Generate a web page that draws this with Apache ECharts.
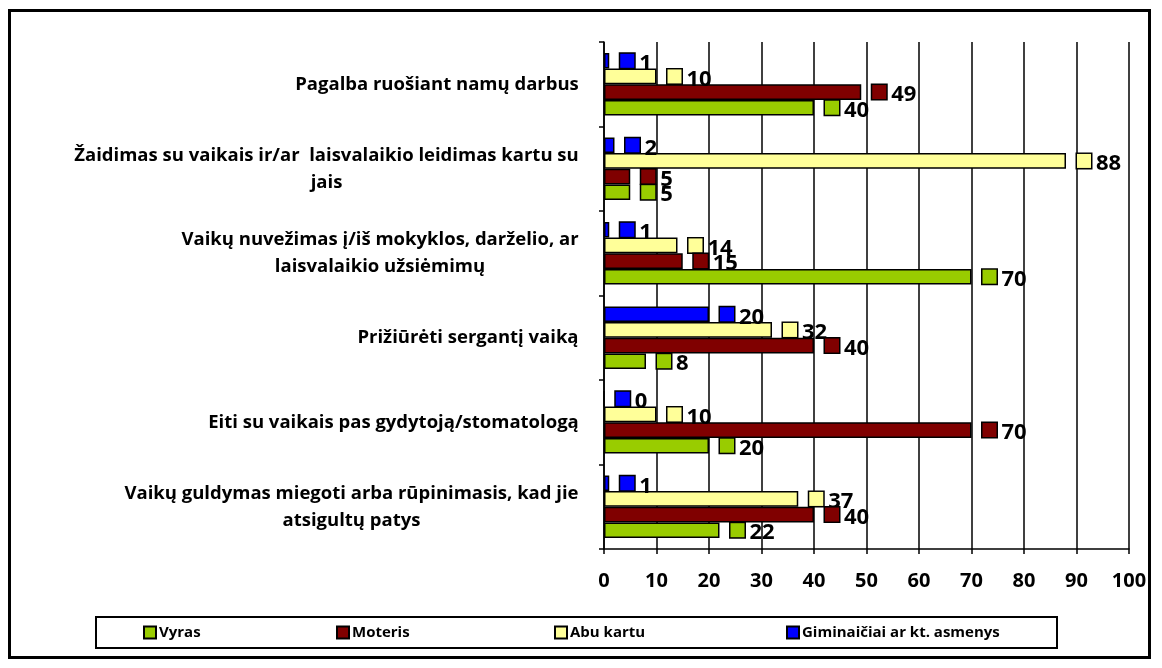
<!DOCTYPE html>
<html>
<head>
<meta charset="utf-8">
<script src="https://cdn.jsdelivr.net/npm/echarts@6/dist/echarts.min.js"></script>
<style>
html,body{margin:0;padding:0;background:#fff;}
#chart{width:1162px;height:668px;}
</style>
</head>
<body>
<div id="chart"></div>
<script>
const categories = [
  "Pagalba ruošiant namų darbus",
  "Žaidimas su vaikais ir/ar  laisvalaikio leidimas kartu su\njais",
  "Vaikų nuvežimas į/iš mokyklos, darželio, ar\nlaisvalaikio užsiėmimų",
  "Prižiūrėti sergantį vaiką",
  "Eiti su vaikais pas gydytoją/stomatologą",
  "Vaikų guldymas miegoti arba rūpinimasis, kad jie\natsigultų patys"
];
const seriesNames = ["Vyras", "Moteris", "Abu kartu", "Giminaičiai ar kt. asmenys"];
const vyras       = [40, 5, 70, 8, 20, 22];
const moteris     = [49, 5, 15, 40, 70, 40];
const abuKartu    = [10, 88, 14, 32, 10, 37];
const giminaiciai = [1, 2, 1, 20, 0, 1];
const colors = {"Vyras":"#99CC00","Moteris":"#800000","Abu kartu":"#FFFF99","Giminaičiai ar kt. asmenys":"#0000FF"};

const FONT = "'Open Sans', sans-serif";
const CAT_SIZE = 18.5;
const cv = document.createElement('canvas').getContext('2d');
cv.font = "bold " + CAT_SIZE + "px 'Open Sans'";
const catRich = {};
categories.forEach((c, i) => {
  const w = Math.max(...c.split('\n').map(l => cv.measureText(l).width));
  catRich['c' + i] = {width: Math.ceil(w) + 2, align: 'center', fontSize: CAT_SIZE, fontWeight: 'bold',
    fontFamily: FONT, color: '#000', lineHeight: 27};
});

function mkSeries(name, data) {
  const col = colors[name];
  return {
    name: name, type: 'bar', data: data,
    barGap: '0%', barCategoryGap: '26%',
    itemStyle: {color: col, borderColor: '#000', borderWidth: 1.5},
    label: {
      show: true, position: 'right', distance: 11,
      formatter: p => '{m|}{v|' + p.value + '}',
      rich: {
        m: {width: 14, height: 14, backgroundColor: col, borderColor: '#000', borderWidth: 1.5},
        v: {fontSize: 22, fontWeight: 'bold', fontFamily: FONT, color: '#000', padding: [6, 0, 0, 5]}
      }
    }
  };
}

const chart = echarts.init(document.getElementById('chart'), null, {renderer: 'canvas'});
const legendLefts = [143, 336, 554, 786];
chart.setOption({
  animation: false,
  backgroundColor: '#fff',
  grid: {left: 604, right: 33, top: 42, bottom: 119, containLabel: false},
  xAxis: {
    type: 'value', min: 0, max: 100, interval: 10,
    axisLine: {show: true, lineStyle: {color: '#000', width: 1.5}},
    axisTick: {show: true, length: 5, lineStyle: {color: '#000', width: 1.5}},
    axisLabel: {fontSize: 20, fontWeight: 'bold', fontFamily: FONT, color: '#000', margin: 22},
    splitLine: {show: true, lineStyle: {color: '#000', width: 1.5}}
  },
  yAxis: {
    type: 'category', inverse: true, data: categories,
    axisLine: {show: true, lineStyle: {color: '#000', width: 1.5}},
    axisTick: {show: true, length: 5, lineStyle: {color: '#000', width: 1.5}},
    axisLabel: {
      margin: 24,
      formatter: (v, i) => v.split('\n').map(l => '{c' + i + '|' + l + '}').join('\n'),
      rich: catRich
    }
  },
  legend: seriesNames.map((n, i) => ({
    data: [n], left: legendLefts[i], top: 625, icon: 'rect', itemWidth: 12, itemHeight: 12,
    itemGap: 0, padding: 0,
    textStyle: {fontSize: 15, fontWeight: 'bold', fontFamily: FONT, color: '#000', padding: [0, 0, 0, -2]}
  })),
  graphic: [
    {type: 'rect', shape: {x: 9.5, y: 10.5, width: 1140, height: 647}, style: {fill: 'none', stroke: '#000', lineWidth: 3}, silent: true},
    {type: 'rect', shape: {x: 96, y: 617, width: 961, height: 31}, style: {fill: 'none', stroke: '#000', lineWidth: 2}, silent: true}
  ],
  series: [
    mkSeries("Giminaičiai ar kt. asmenys", giminaiciai),
    mkSeries("Abu kartu", abuKartu),
    mkSeries("Moteris", moteris),
    mkSeries("Vyras", vyras)
  ]
});
</script>
</body>
</html>
